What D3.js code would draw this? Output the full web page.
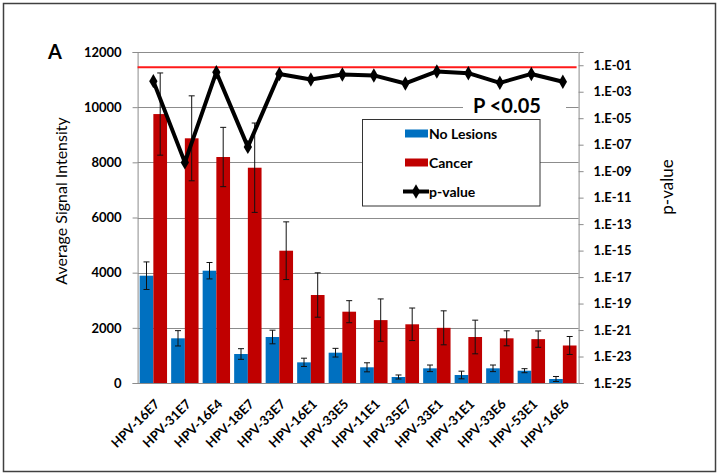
<!DOCTYPE html>
<html>
<head>
<meta charset="utf-8">
<script src="https://cdn.jsdelivr.net/npm/d3@7/dist/d3.min.js"></script>
<style>
  html, body { margin: 0; padding: 0; background: #fff; }
  svg { display: block; font-family: Lato, "Open Sans", sans-serif; }
</style>
</head>
<body>
<svg id="chart" width="719" height="475"></svg>
<script>
const categories = ["HPV-16E7","HPV-31E7","HPV-16E4","HPV-18E7","HPV-33E7","HPV-16E1","HPV-33E5",
                    "HPV-11E1","HPV-35E7","HPV-33E1","HPV-31E1","HPV-33E6","HPV-53E1","HPV-16E6"];
const noLesions    = [3890, 1620, 4071, 1051, 1668, 749, 1099, 569, 218, 532, 290, 532, 446, 145];
const noLesionsErr = [500, 278, 298, 193, 247, 150, 157, 164, 73, 120, 139, 120, 73, 91];
const cancer       = [9750, 8871, 8193, 7805, 4796, 3190, 2585, 2280, 2128, 2000, 1668, 1620, 1590, 1360];
const cancerErr    = [1490, 1540, 1075, 1620, 1046, 805, 400, 768, 590, 616, 610, 272, 296, 326];
const pValues      = [6.3e-3, 4.6e-9, 3.0e-2, 6.8e-8, 2.2e-2, 8.3e-3, 2.0e-2, 1.7e-2, 4.2e-3, 3.4e-2, 2.5e-2, 4.7e-3, 2.2e-2, 5.6e-3];
const leftTicks    = [0, 2000, 4000, 6000, 8000, 10000, 12000];
const rightTickExp = [-25, -23, -21, -19, -17, -15, -13, -11, -9, -7, -5, -3, -1];
const threshold    = 0.07;
const seriesNames  = ["No Lesions", "Cancer", "p-value"];
const colors = { noLesions: "#0070C0", cancer: "#C00000" };

const svg = d3.select("#chart");
const plot = { left: 137.6, right: 578.6, top: 52, bottom: 383 };

// outer frame
svg.append("rect").attr("x", 3.5).attr("y", 3.5).attr("width", 712).attr("height", 468)
  .attr("fill", "#fff").attr("stroke", "#404040").attr("stroke-width", 1.5);

const x = d3.scaleBand().domain(categories).range([plot.left, plot.right]);
const x1 = d3.scaleBand().domain(["noLesions", "cancer"]).range([0, x.bandwidth()]).paddingOuter(0.15);
const y = d3.scaleLinear().domain([0, 12000]).range([plot.bottom, plot.top]);
const yP = d3.scaleLog().domain([1e-25, 1]).range([plot.bottom, plot.top]);

// gridlines
svg.append("g").selectAll("line").data(leftTicks.slice(1)).join("line")
  .attr("x1", plot.left).attr("x2", plot.right)
  .attr("y1", d => Math.round(y(d)) + 0.5).attr("y2", d => Math.round(y(d)) + 0.5)
  .attr("stroke", "#8c8c8c").attr("stroke-width", 1);

// left axis
const gL = svg.append("g").attr("transform", `translate(${plot.left},0)`)
  .call(d3.axisLeft(y).tickValues(leftTicks).tickSize(5).tickPadding(11).tickFormat(d3.format("d")));
gL.select(".domain").attr("stroke", "#8c8c8c");
gL.selectAll(".tick line").attr("stroke", "#8c8c8c");
gL.selectAll("text").attr("font-size", 13).attr("font-weight", "bold").attr("fill", "#000")
  .attr("font-family", "Lato, sans-serif");

// right axis
const gR = svg.append("g").attr("transform", `translate(${plot.right},0)`)
  .call(d3.axisRight(yP).tickValues(rightTickExp.map(e => Math.pow(10, e))).tickSize(5).tickPadding(10)
    .tickFormat((d, i) => { const e = rightTickExp[i]; return "1.E" + (e < 0 ? "-" : "+") + String(Math.abs(e)).padStart(2, "0"); }));
gR.select(".domain").attr("stroke", "#8c8c8c");
gR.selectAll(".tick line").attr("stroke", "#8c8c8c");
gR.selectAll("text").attr("font-size", 13).attr("font-weight", "bold").attr("fill", "#000")
  .attr("font-family", "Lato, sans-serif");

// bottom axis line
svg.append("line").attr("x1", plot.left).attr("x2", plot.right)
  .attr("y1", plot.bottom + 0.5).attr("y2", plot.bottom + 0.5).attr("stroke", "#8c8c8c");

// x labels
svg.append("g").selectAll("text").data(categories).join("text")
  .attr("transform", d => `translate(${x(d) + x.bandwidth() / 2 + 7},${plot.bottom + 22}) rotate(-45)`)
  .attr("text-anchor", "end").attr("font-size", 13).attr("font-weight", "bold").text(d => d);

// bars
const rows = categories.map((c, i) => ({ c, i }));
const series = [
  { key: "noLesions", vals: noLesions, errs: noLesionsErr },
  { key: "cancer", vals: cancer, errs: cancerErr }
];
const bars = svg.append("g");
series.forEach(s => {
  bars.selectAll(null).data(rows).join("rect")
    .attr("x", d => x(d.c) + x1(s.key))
    .attr("width", x1.bandwidth())
    .attr("y", d => y(s.vals[d.i]))
    .attr("height", d => y(0) - y(s.vals[d.i]))
    .attr("fill", colors[s.key]);
});
// error bars
series.forEach(s => {
  const g = svg.append("g").attr("stroke", "#111").attr("stroke-width", 1);
  rows.forEach(d => {
    const cx = x(d.c) + x1(s.key) + x1.bandwidth() / 2;
    const hi = y(s.vals[d.i] + s.errs[d.i]);
    const lo = y(s.vals[d.i] - s.errs[d.i]);
    g.append("line").attr("x1", cx).attr("x2", cx).attr("y1", hi).attr("y2", lo);
    g.append("line").attr("x1", cx - 3).attr("x2", cx + 3).attr("y1", hi).attr("y2", hi);
    g.append("line").attr("x1", cx - 3).attr("x2", cx + 3).attr("y1", lo).attr("y2", lo);
  });
});

// threshold line
svg.append("line").attr("x1", plot.left).attr("x2", plot.right - 2)
  .attr("y1", yP(threshold)).attr("y2", yP(threshold))
  .attr("stroke", "#ff1a1a").attr("stroke-width", 2);

// p-value line
const line = d3.line().x((d, i) => x(categories[i]) + x.bandwidth() / 2).y(d => yP(d));
svg.append("path").datum(pValues).attr("d", line)
  .attr("fill", "none").attr("stroke", "#000").attr("stroke-width", 4).attr("stroke-linejoin", "round");
svg.append("g").selectAll("path").data(pValues).join("path")
  .attr("transform", (d, i) => `translate(${x(categories[i]) + x.bandwidth() / 2},${yP(d)})`)
  .attr("d", d3.symbol().type(d3.symbolDiamond).size(60)).attr("fill", "#000");

// P<0.05 label
svg.append("rect").attr("x", 463).attr("y", 96).attr("width", 103).attr("height", 22).attr("fill", "#fff");
svg.append("text").attr("x", 473).attr("y", 113).attr("font-size", 20).attr("font-weight", "bold")
  .text("P <0.05");

// legend
const lg = svg.append("g");
lg.append("rect").attr("x", 362.5).attr("y", 119.5).attr("width", 177.5).attr("height", 86.5)
  .attr("fill", "#fff").attr("stroke", "#333").attr("stroke-width", 1);
const legendY = [133.5, 162.5, 191.5];
lg.append("rect").attr("x", 405).attr("y", legendY[0] - 4).attr("width", 23).attr("height", 8).attr("fill", colors.noLesions);
lg.append("rect").attr("x", 405).attr("y", legendY[1] - 4).attr("width", 23).attr("height", 8).attr("fill", colors.cancer);
lg.append("line").attr("x1", 403).attr("x2", 429).attr("y1", legendY[2]).attr("y2", legendY[2])
  .attr("stroke", "#000").attr("stroke-width", 4);
lg.append("path").attr("transform", `translate(416,${legendY[2]})`)
  .attr("d", d3.symbol().type(d3.symbolDiamond).size(60)).attr("fill", "#000");
lg.selectAll("text").data(seriesNames).join("text")
  .attr("x", 429).attr("y", (d, i) => legendY[i]).attr("dy", "0.36em")
  .attr("font-size", 14).attr("font-weight", "bold").text(d => d);

// axis titles
svg.append("text").attr("transform", "translate(67,201) rotate(-90)").attr("text-anchor", "middle")
  .attr("font-size", 16).text("Average Signal Intensity");
svg.append("text").attr("transform", "translate(673,187) rotate(-90)").attr("text-anchor", "middle")
  .attr("font-size", 17).text("p-value");

// panel label
svg.append("text").attr("x", 48).attr("y", 59).attr("font-size", 20).attr("font-weight", "bold").text("A");
</script>
</body>
</html>
